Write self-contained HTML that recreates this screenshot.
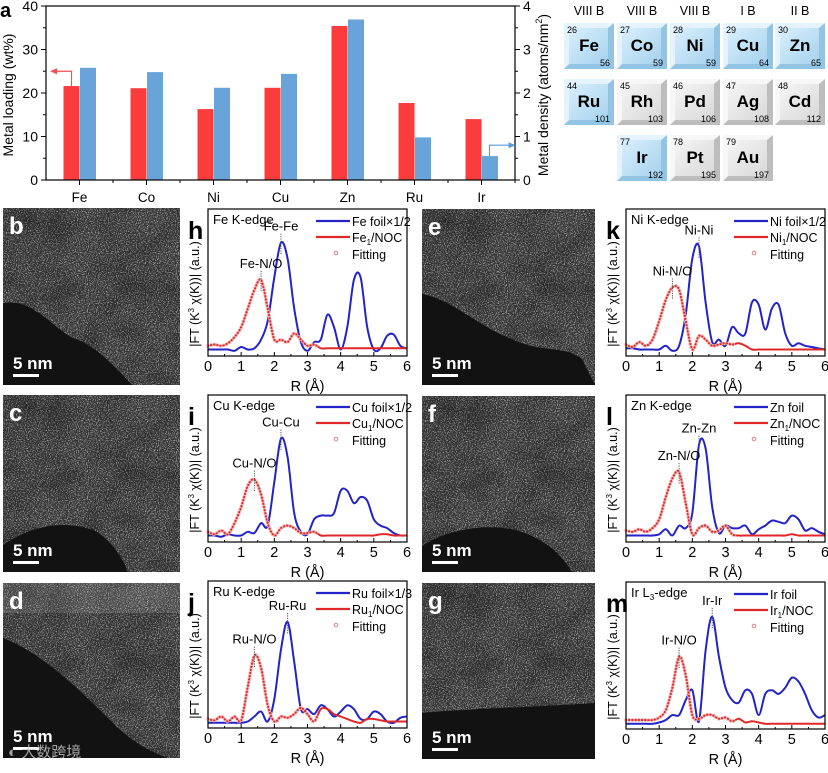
<!DOCTYPE html>
<html><head><meta charset="utf-8">
<style>
html,body{margin:0;padding:0;background:#fff;}
body{width:828px;height:768px;position:relative;overflow:hidden;font-family:"Liberation Sans",Arial,sans-serif;}
svg text{font-family:"Liberation Sans",Arial,sans-serif;}
</style></head>
<body>
<svg id="fig" width="828" height="768" viewBox="0 0 828 768" xmlns="http://www.w3.org/2000/svg">
<defs>
<filter id="noise" x="0" y="0" width="100%" height="100%">
<feTurbulence type="fractalNoise" baseFrequency="0.9" numOctaves="2" seed="3" result="t"/>
<feColorMatrix type="matrix" values="0 0 0 0 1  0 0 0 0 1  0 0 0 0 1  3 0 0 0 -1.4" in="t"/>
</filter>
<filter id="blotch" x="0" y="0" width="100%" height="100%">
<feTurbulence type="fractalNoise" baseFrequency="0.03" numOctaves="2" seed="8" result="t"/>
<feColorMatrix type="matrix" values="0 0 0 0 0  0 0 0 0 0  0 0 0 0 0  1.2 0 0 0 -0.45" in="t"/>
</filter>
<linearGradient id="gBlue" x1="0" y1="0" x2="1" y2="1"><stop offset="0" stop-color="#d9effc"/><stop offset="1" stop-color="#a6d2ee"/></linearGradient>
<linearGradient id="gGray" x1="0" y1="0" x2="1" y2="1"><stop offset="0" stop-color="#f5f5f5"/><stop offset="1" stop-color="#d8d8d8"/></linearGradient>
</defs>
<g id="panelA"></g>
<g id="ptable"></g>
<g id="images"></g>
<g id="exafs"></g>
<text x="8" y="757" font-size="15" fill="#c8c8c8" opacity="0.8" font-family="'Liberation Sans','Noto Sans CJK SC',sans-serif">◐ 大数跨境</text>
</svg>
<script>
// ---- Panel a data ----
const categories = ["Fe","Co","Ni","Cu","Zn","Ru","Ir"];
const loadingWt = [21.6,21.1,16.3,21.2,35.4,17.7,14.0];
const densityAtoms = [2.58,2.48,2.12,2.44,3.69,0.98,0.55];
const leftTicks = [0,10,20,30,40];
const rightTicks = [0,1,2,3,4];

// ---- EXAFS data (R = 0..6 step 0.2, normalized magnitude) ----
const rGrid = [0,0.2,0.4,0.6,0.8,1.0,1.2,1.4,1.6,1.8,2.0,2.2,2.4,2.6,2.8,3.0,3.2,3.4,3.6,3.8,4.0,4.2,4.4,4.6,4.8,5.0,5.2,5.4,5.6,5.8,6.0];
const feFoil = [0.02,0.02,0.02,0.02,0.01,0.04,0.02,0.03,0.1,0.25,0.6,0.88,0.75,0.35,0.08,0.01,0.08,0.1,0.3,0.2,0.02,0.2,0.58,0.6,0.2,0.02,0.03,0.13,0.14,0.05,0.03];
const feSample = [0.05,0.06,0.05,0.07,0.12,0.2,0.35,0.5,0.58,0.35,0.1,0.1,0.08,0.15,0.1,0.05,0.06,0.03,0.03,0.03,0.03,0.03,0.03,0.03,0.03,0.03,0.03,0.03,0.03,0.03,0.03];
const niFoil = [0.03,0.03,0.02,0.02,0.02,0.02,0.05,0.01,0.05,0.3,0.75,0.85,0.4,0.08,0.1,0.05,0.2,0.15,0.15,0.4,0.38,0.18,0.35,0.38,0.15,0.05,0.07,0.05,0.04,0.03,0.02];
const niSample = [0.06,0.04,0.08,0.05,0.1,0.25,0.42,0.52,0.5,0.25,0.02,0.13,0.1,0.05,0.06,0.07,0.06,0.07,0.05,0.02,0.02,0.02,0.02,0.02,0.02,0.02,0.02,0.02,0.02,0.02,0.02];
const cuFoil = [0.02,0.02,0.01,0.03,0.02,0.02,0.05,0.04,0.12,0.1,0.45,0.8,0.65,0.2,0.05,0.03,0.15,0.18,0.18,0.2,0.38,0.38,0.28,0.33,0.3,0.15,0.1,0.08,0.04,0.02,0.02];
const cuSample = [0.05,0.03,0.06,0.03,0.12,0.25,0.42,0.47,0.35,0.12,0.02,0.08,0.1,0.08,0.04,0.04,0.05,0.02,0.02,0.02,0.02,0.02,0.02,0.02,0.02,0.02,0.03,0.03,0.02,0.02,0.02];
const znFoil = [0.02,0.02,0.02,0.02,0.02,0.03,0.07,0.02,0.1,0.08,0.2,0.75,0.72,0.25,0.04,0.1,0.08,0.08,0.1,0.03,0.07,0.1,0.14,0.13,0.12,0.18,0.15,0.06,0.08,0.05,0.03];
const znSample = [0.06,0.05,0.07,0.05,0.08,0.15,0.33,0.48,0.53,0.28,0.03,0.08,0.1,0.05,0.06,0.1,0.03,0.02,0.02,0.02,0.02,0.02,0.02,0.02,0.02,0.03,0.02,0.02,0.02,0.02,0.02];
const ruFoil = [0.01,0.01,0.01,0.01,0.01,0.01,0.02,0.06,0.1,0.02,0.2,0.6,0.82,0.5,0.12,0.12,0.08,0.15,0.12,0.06,0.1,0.15,0.12,0.04,0.04,0.1,0.08,0.02,0.01,0.05,0.06];
const ruSample = [0.04,0.03,0.06,0.02,0.06,0.03,0.3,0.55,0.45,0.15,0.02,0.06,0.05,0.08,0.13,0.08,0.02,0.12,0.12,0.08,0.06,0.04,0.02,0.01,0.04,0.04,0.03,0.02,0.02,0.02,0.02];
const irFoil = [0.01,0.01,0.01,0.01,0.01,0.02,0.04,0.08,0.08,0.2,0.28,0.03,0.6,0.87,0.55,0.3,0.2,0.18,0.28,0.25,0.08,0.25,0.28,0.25,0.3,0.38,0.35,0.25,0.12,0.06,0.08];
const irSample = [0.04,0.04,0.04,0.04,0.04,0.06,0.12,0.3,0.55,0.4,0.08,0.05,0.08,0.08,0.05,0.06,0.03,0.05,0.02,0.03,0.02,0.01,0.01,0.01,0.01,0.01,0.01,0.01,0.01,0.01,0.01];
const rTicks = [0,1,2,3,4,5,6];

const NS="http://www.w3.org/2000/svg";
function mk(parent,tag,attrs,txt){const e=document.createElementNS(NS,tag);for(const k in attrs)e.setAttribute(k,attrs[k]);if(txt!==undefined)e.textContent=txt;parent.appendChild(e);return e;}

// ===== Panel a =====
(function(){
  const g=document.getElementById('panelA');
  const L=46,R=515,T=6,B=180;
  const yL=v=>B-(v/40)*(B-T), yR=v=>B-(v/4)*(B-T);
  const band=(R-L)/categories.length, bw=16;
  const xc=i=>L+band*(i+0.5);
  let t=mk(g,'text',{x:0,y:17,'font-size':20,'font-weight':'bold'},'a');
  
  categories.forEach((c,i)=>{
    let r=mk(g,'rect',{x:xc(i)-bw,y:yL(loadingWt[i]),width:bw,height:B-yL(loadingWt[i]),fill:'#fa3c3c'});
    
    let b=mk(g,'rect',{x:xc(i)+0.5,y:yR(densityAtoms[i]),width:bw,height:B-yR(densityAtoms[i]),fill:'#68a3da'});
    
    let l=mk(g,'text',{x:xc(i),y:202,'font-size':13.5,'text-anchor':'middle'},c);
    
    mk(g,'line',{x1:xc(i),y1:B,x2:xc(i),y2:B+5,stroke:'#000'});
    mk(g,'line',{x1:L+band*(i+1),y1:B,x2:L+band*(i+1),y2:B+3,stroke:'#000'});
  });
  mk(g,'rect',{x:L,y:T,width:R-L,height:B-T,fill:'none',stroke:'#000','stroke-width':1.2});
  leftTicks.forEach(v=>{mk(g,'line',{x1:L-5,y1:yL(v),x2:L,y2:yL(v),stroke:'#000'});
    let tt=mk(g,'text',{x:L-8,y:yL(v)+5,'font-size':14,'text-anchor':'end'},v);
    
    if(v<40)mk(g,'line',{x1:L-3,y1:yL(v+5),x2:L,y2:yL(v+5),stroke:'#000'});});
  rightTicks.forEach(v=>{mk(g,'line',{x1:R,y1:yR(v),x2:R+5,y2:yR(v),stroke:'#000'});
    let tt=mk(g,'text',{x:R+8,y:yR(v)+5,'font-size':14},v);
    
    if(v<4)mk(g,'line',{x1:R,y1:yR(v+0.5),x2:R+3,y2:yR(v+0.5),stroke:'#000'});});
  let yl=mk(g,'text',{x:0,y:0,'font-size':14,'text-anchor':'middle',transform:'translate(13,95) rotate(-90)'},'Metal loading (wt%)');
  
  let yr=mk(g,'text',{x:0,y:0,'font-size':14,'text-anchor':'middle',transform:'translate(548,95) rotate(-90)'});
  
  yr.textContent='Metal density (atoms/nm';mk(yr,'tspan',{'font-size':9,dy:-6},'2');mk(yr,'tspan',{dy:6},')');
  const fx=xc(0)-bw/2, fy=yL(loadingWt[0]);
  mk(g,'path',{d:`M${fx} ${fy} V${yL(25)} H${56}`,fill:'none',stroke:'#f05050','stroke-width':1.2});
  mk(g,'path',{d:`M50 ${yL(25)} l7 -3 v6 z`,fill:'#f05050'});
  const ix=xc(6)+bw/2, iy=yR(densityAtoms[6]);
  mk(g,'path',{d:`M${ix} ${iy} V${yR(0.8)} H${ix+20}`,fill:'none',stroke:'#5b9bd5','stroke-width':1.2});
  mk(g,'path',{d:`M${ix+26} ${yR(0.8)} l-7 -3 v6 z`,fill:'#5b9bd5'});
})();

// ===== Periodic table =====
(function(){
  const g=document.getElementById('ptable');
  const heads=['VIII B','VIII B','VIII B','I B','II B'];
  const colX=[564,617,670,723,775], rowY=[23,79,135], w=50,h=46;
  heads.forEach((s,i)=>{let t=mk(g,'text',{x:colX[i]+w/2,y:15,'font-size':12.5,'text-anchor':'middle'},s);
    });
  const els=[[0,0,26,'Fe',56,1],[0,1,27,'Co',59,1],[0,2,28,'Ni',59,1],[0,3,29,'Cu',64,1],[0,4,30,'Zn',65,1],
   [1,0,44,'Ru',101,1],[1,1,45,'Rh',103,0],[1,2,46,'Pd',106,0],[1,3,47,'Ag',108,0],[1,4,48,'Cd',112,0],
   [2,1,77,'Ir',192,1],[2,2,78,'Pt',195,0],[2,3,79,'Au',197,0]];
  els.forEach(e=>{const x=colX[e[1]],y=rowY[e[0]];
    const tg=mk(g,'g',{});
    
    mk(tg,'rect',{x,y,width:w,height:h,fill:e[5]?'#93c4e4':'#bdbdbd'});
    mk(tg,'path',{d:`M${x} ${y} H${x+w} L${x+w-6} ${y+5} H${x+5} V${y+h-5} L${x} ${y+h}Z`,fill:e[5]?'#e4f3fd':'#f7f7f7'});
    mk(tg,'rect',{x:x+5,y:y+5,width:w-11,height:h-10,fill:e[5]?'url(#gBlue)':'url(#gGray)'});
    mk(tg,'text',{x:x+3,y:y+10,'font-size':9},e[2]);
    mk(tg,'text',{x:x+w/2,y:y+28,'font-size':17,'font-weight':'bold','text-anchor':'middle'},e[3]);
    mk(tg,'text',{x:x+w-4,y:y+h-3,'font-size':9,'text-anchor':'end'},e[4]);
  });
})();

// ===== STEM images =====
(function(){
  const g=document.getElementById('images');
  const imgs=[['b',3,208,177,177,'M0 95 C30 90 50 120 70 130 C100 140 120 170 130 177 L0 177Z'],
    ['c',3,395,177,177,'M0 150 C30 130 60 125 90 135 C110 145 120 165 125 177 L0 177Z'],
    ['d',3,583,177,175,'M0 55 C40 70 80 110 110 140 C130 160 150 170 165 175 L0 175Z'],
    ['e',422,209,173,176,'M0 85 C30 90 60 120 90 130 C120 145 140 135 160 150 C165 160 170 170 173 176 L0 176Z'],
    ['f',422,396,173,176,'M0 150 C30 130 80 125 110 140 C130 150 140 160 150 176 L0 176Z'],
    ['g',422,583,173,176,'M0 130 C50 125 100 125 173 120 L173 176 L0 176Z']];
  imgs.forEach(m=>{const [lab,x,y,w,h,dark]=m;
    const ig=mk(g,'g',{transform:`translate(${x},${y})`});
    
    mk(ig,'rect',{x:0,y:0,width:w,height:h,fill:'#333'});
    mk(ig,'rect',{x:0,y:0,width:w,height:h,filter:'url(#noise)',opacity:0.7});
    mk(ig,'rect',{x:0,y:0,width:w,height:h,filter:'url(#blotch)',opacity:0.5});
    mk(ig,'path',{d:dark,fill:'#121212'});
    if(lab==='d')mk(ig,'rect',{x:0,y:0,width:w,height:30,fill:'#ffffff',opacity:0.12});
    let t=mk(ig,'text',{x:6,y:26,'font-size':24,'font-weight':'bold',fill:'#fff'},lab);
    
    let s=mk(ig,'text',{x:10,y:h-16,'font-size':17,'font-weight':'bold',fill:'#fff'},'5 nm');
    
    mk(ig,'rect',{x:10,y:h-11,width:26,height:3,fill:'#fff'});
  });
})();

// ===== EXAFS panels =====
function smoothPath(pts){let d=`M${pts[0][0]} ${pts[0][1]}`;
  for(let i=0;i<pts.length-1;i++){const p0=pts[Math.max(0,i-1)],p1=pts[i],p2=pts[i+1],p3=pts[Math.min(pts.length-1,i+2)];
    const c1=[p1[0]+(p2[0]-p0[0])/6,p1[1]+(p2[1]-p0[1])/6],c2=[p2[0]-(p3[0]-p1[0])/6,p2[1]-(p3[1]-p1[1])/6];
    d+=` C${c1[0].toFixed(1)} ${c1[1].toFixed(1)} ${c2[0].toFixed(1)} ${c2[1].toFixed(1)} ${p2[0].toFixed(1)} ${p2[1].toFixed(1)}`;}
  return d;}
const panels=[
 {lab:'h',x0:208,y0:209,el:'Fe',edge:'Fe K-edge',foilName:'Fe foil×1/2',foil:feFoil,samp:feSample},
 {lab:'k',x0:626,y0:209,el:'Ni',edge:'Ni K-edge',foilName:'Ni foil×1/2',foil:niFoil,samp:niSample},
 {lab:'i',x0:208,y0:395,el:'Cu',edge:'Cu K-edge',foilName:'Cu foil×1/2',foil:cuFoil,samp:cuSample},
 {lab:'l',x0:626,y0:395,el:'Zn',edge:'Zn K-edge',foilName:'Zn foil',foil:znFoil,samp:znSample},
 {lab:'j',x0:208,y0:581,el:'Ru',edge:'Ru K-edge',foilName:'Ru foil×1/3',foil:ruFoil,samp:ruSample},
 {lab:'m',x0:626,y0:582,el:'Ir',edge:'Ir L3-edge',foilName:'Ir foil',foil:irFoil,samp:irSample}];
(function(){
  const root=document.getElementById('exafs');
  panels.forEach(p=>{
    const W=199,H=147,x0=p.x0,y0=p.y0,yMax=1.15;
    const xs=r=>x0+r/6*W, ys=v=>y0+H-4-v/yMax*(H-4);
    const g=mk(root,'g',{});
    
    const pl=mk(g,'text',{x:x0-20,y:y0+30,'font-size':25,'font-weight':'bold'},p.lab);
    
    const yt=mk(g,'text',{x:0,y:0,'font-size':12.5,'text-anchor':'middle',transform:`translate(${x0-9},${y0+H-62}) rotate(-90)`});
    
    yt.textContent='|FT (K';mk(yt,'tspan',{'font-size':8,dy:-5},'3');mk(yt,'tspan',{dy:5},' χ(K))| (a.u.)');
    const fp=rGrid.map((r,i)=>[xs(r),ys(p.foil[i])]), sp=rGrid.map((r,i)=>[xs(r),ys(p.samp[i])]);
    const fc=mk(g,'path',{d:smoothPath(fp),fill:'none',stroke:'#2323c8','stroke-width':2});
    
    const sc=mk(g,'path',{d:smoothPath(sp),fill:'none',stroke:'#e02828','stroke-width':2});
    
    const fitG=mk(g,'g',{});
    
    const len=sc.getTotalLength();
    for(let s=0;s<len;s+=3.2){const pt=sc.getPointAtLength(s);if(pt.x>xs(3.3))break;
      mk(fitG,'circle',{cx:pt.x,cy:pt.y,r:1.5,fill:'none',stroke:'#f0b4b4','stroke-width':0.7});}
    mk(g,'rect',{x:x0,y:y0,width:W,height:H,fill:'none',stroke:'#000','stroke-width':1.2});
    rTicks.forEach(r=>{mk(g,'line',{x1:xs(r),y1:y0+H,x2:xs(r),y2:y0+H-4,stroke:'#000'});
      const tl=mk(g,'text',{x:xs(r),y:y0+H+15,'font-size':14.5,'text-anchor':'middle'},r);
      
      if(r<6)mk(g,'line',{x1:xs(r+0.5),y1:y0+H,x2:xs(r+0.5),y2:y0+H-2,stroke:'#000'});});
    const xt=mk(g,'text',{x:x0+W/2,y:y0+H+35,'font-size':14.5,'text-anchor':'middle'},'R (Å)');
    
    const ed=mk(g,'text',{x:x0+5,y:y0+15,'font-size':13});
    
    if(p.edge.indexOf('L3')>=0){ed.textContent='Ir L';mk(ed,'tspan',{'font-size':8,dy:3},'3');mk(ed,'tspan',{dy:-3},'-edge');}
    else ed.textContent=p.edge;
    const lg=mk(g,'g',{});
    
    const lx=x0+108;
    mk(lg,'line',{x1:lx,y1:y0+12,x2:lx+34,y2:y0+12,stroke:'#2323c8','stroke-width':2.2});
    mk(lg,'text',{x:lx+36,y:y0+17,'font-size':12.5},p.foilName);
    mk(lg,'line',{x1:lx,y1:y0+28,x2:lx+34,y2:y0+28,stroke:'#e02828','stroke-width':2.2});
    const st=mk(lg,'text',{x:lx+36,y:y0+33,'font-size':12.5},p.el);
    mk(st,'tspan',{'font-size':8,dy:3},'1');mk(st,'tspan',{dy:-3},'/NOC');
    mk(lg,'circle',{cx:lx+20,cy:y0+44,r:1.8,fill:'none',stroke:'#e08080'});
    mk(lg,'text',{x:lx+36,y:y0+50,'font-size':12.5},'Fitting');
    const am=a=>a.indexOf(Math.max(...a));
    const fi=am(p.foil), si=am(p.samp);
    const fx=xs(rGrid[fi]), fy=ys(p.foil[fi]), sx=xs(rGrid[si]), sy=ys(p.samp[si]);
    const a1=mk(g,'text',{x:fx,y:fy-12,'font-size':13,'text-anchor':'middle'},p.el+'-'+p.el);
    
    mk(g,'line',{x1:fx,y1:fy-9,x2:fx,y2:fy+12,stroke:'#555','stroke-dasharray':'1.2 1.2'});
    const a2=mk(g,'text',{x:sx,y:sy-12,'font-size':13,'text-anchor':'middle'},p.el+'-N/O');
    
    mk(g,'line',{x1:sx,y1:sy-9,x2:sx,y2:sy+12,stroke:'#555','stroke-dasharray':'1.2 1.2'});
  });
})();
</script>
</body></html>
